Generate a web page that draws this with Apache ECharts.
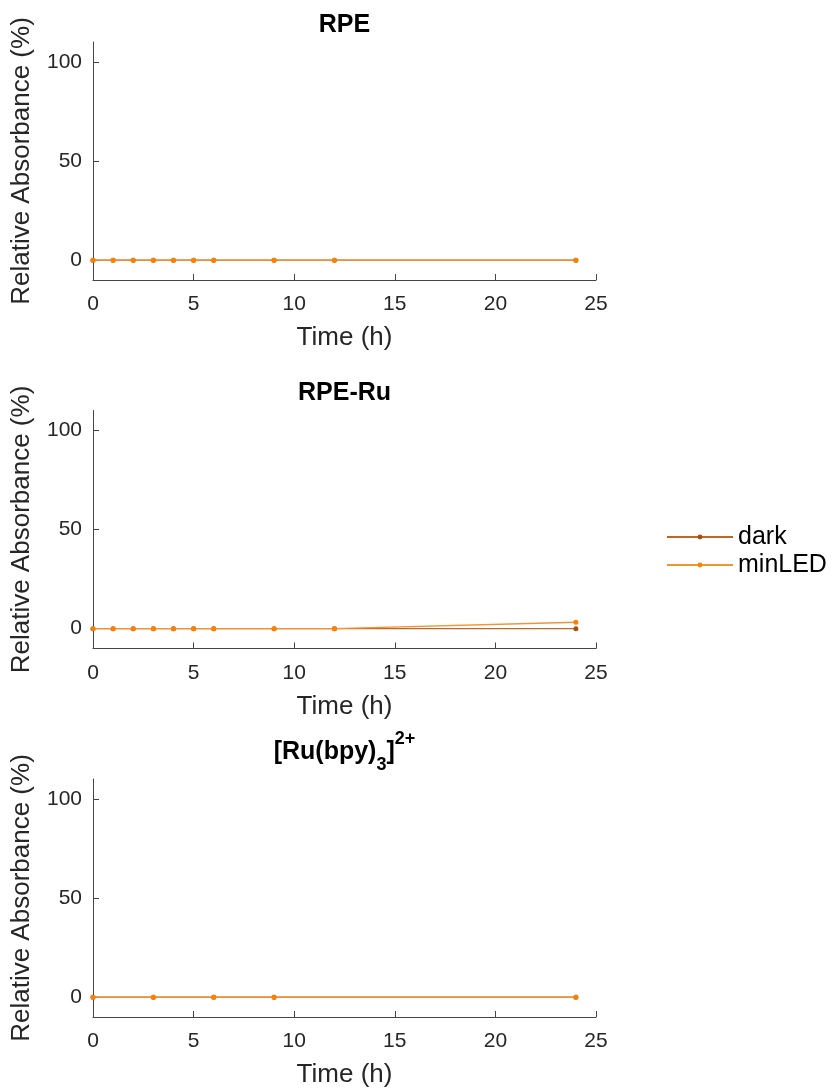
<!DOCTYPE html>
<html>
<head>
<meta charset="utf-8">
<script src="https://cdn.jsdelivr.net/npm/echarts@6/dist/echarts.min.js"></script>
<style>
  html, body { margin: 0; padding: 0; background: #ffffff; }
  #chart { width: 837px; height: 1091px; }
</style>
</head>
<body>
<div id="chart"></div>
<script>
// Panel titles (third one uses rich text for sub/superscript)
const panelTitles = ['RPE', 'RPE-Ru', '{b|[Ru(bpy)}{sub|3}{b|]}{sup|2+}'];
const seriesNames = ['dark', 'minLED'];

// Sampling times (h)
const timesLong = [0, 1, 2, 3, 4, 5, 6, 9, 12, 24];
const timesShort = [0, 3, 6, 9, 24];

// Relative absorbance (%) per panel
const rpeDark = [0, 0, 0, 0, 0, 0, 0, 0, 0, 0];
const rpeMinLED = [0, 0, 0, 0, 0, 0, 0, 0, 0, 0];
const rpeRuDark = [0, 0, 0, 0, 0, 0, 0, 0, 0, 0];
const rpeRuMinLED = [0, 0, 0, 0, 0, 0, 0, 0, 0, 3.2];
const rubpyDark = [0, 0, 0, 0, 0];
const rubpyMinLED = [0, 0, 0, 0, 0];

// Axis ticks
const xTickValues = [0, 5, 10, 15, 20, 25];
const yTickValues = [0, 50, 100];

const panels = [
  { times: timesLong, dark: rpeDark, minLED: rpeMinLED },
  { times: timesLong, dark: rpeRuDark, minLED: rpeRuMinLED },
  { times: timesShort, dark: rubpyDark, minLED: rubpyMinLED }
];

const colors = { dark: '#A4500F', minLED: '#FF8000' };
const lineColors = { dark: '#B86A2E', minLED: '#F7922E' };
const FONT = 'Liberation Sans, Arial, sans-serif';
const AXIS_COLOR = '#454545';
const TEXT_COLOR = '#262626';

const gridLeft = 93, gridWidth = 503, gridHeight = 238;
const gridTops = [42, 410.5, 779];
// vertical centre of each panel title
const titleCenters = [25, 393, 752.5];
const TITLE_LINE = 44;

const grids = [], xAxes = [], yAxes = [], series = [], titles = [];

panels.forEach((p, i) => {
  grids.push({
    left: gridLeft, top: gridTops[i], width: gridWidth, height: gridHeight,
    containLabel: false, outerBoundsMode: 'none'
  });
  xAxes.push({
    gridIndex: i, type: 'value', min: 0, max: 25, interval: 5,
    name: 'Time (h)', nameLocation: 'middle', nameGap: 45,
    nameTextStyle: { fontFamily: FONT, fontSize: 26, color: TEXT_COLOR },
    axisLine: { show: true, onZero: false, lineStyle: { color: AXIS_COLOR, width: 1 } },
    axisTick: { show: true, inside: true, length: 6, customValues: xTickValues, lineStyle: { color: AXIS_COLOR } },
    axisLabel: { fontFamily: FONT, fontSize: 21, color: TEXT_COLOR, margin: 14, customValues: xTickValues },
    splitLine: { show: false }
  });
  yAxes.push({
    gridIndex: i, type: 'value', min: -10, max: 110,
    name: 'Relative Absorbance (%)', nameLocation: 'middle', nameGap: 58,
    nameTextStyle: { fontFamily: FONT, fontSize: 26, color: TEXT_COLOR },
    axisLine: { show: true, lineStyle: { color: AXIS_COLOR, width: 1 } },
    axisTick: { show: true, inside: true, length: 6, customValues: yTickValues, lineStyle: { color: AXIS_COLOR } },
    axisLabel: { fontFamily: FONT, fontSize: 21, color: TEXT_COLOR, margin: 11, customValues: yTickValues },
    splitLine: { show: false }
  });
  seriesNames.forEach((name) => {
    series.push({
      name: name, type: 'line', xAxisIndex: i, yAxisIndex: i,
      data: p.times.map((t, k) => [t, p[name][k]]),
      symbol: 'circle', symbolSize: 5, showSymbol: true,
      itemStyle: { color: colors[name] },
      lineStyle: { color: lineColors[name], width: 1.4 },
      z: name === 'minLED' ? 3 : 2,
      animation: false
    });
  });
  titles.push({
    text: panelTitles[i],
    left: gridLeft + gridWidth / 2, textAlign: 'center',
    top: titleCenters[i] - TITLE_LINE / 2, padding: 0,
    textStyle: {
      fontFamily: FONT, fontSize: 25, fontWeight: 'bold', color: '#000000', lineHeight: TITLE_LINE,
      rich: {
        b: { fontFamily: FONT, fontSize: 25, fontWeight: 'bold', color: '#000000', lineHeight: TITLE_LINE, verticalAlign: 'middle' },
        sub: { fontFamily: FONT, fontSize: 18, fontWeight: 'bold', color: '#000000', lineHeight: 18, verticalAlign: 'bottom' },
        sup: { fontFamily: FONT, fontSize: 18, fontWeight: 'bold', color: '#000000', lineHeight: 18, verticalAlign: 'top' }
      }
    }
  });
});

const chart = echarts.init(document.getElementById('chart'), null, { renderer: 'canvas' });
chart.setOption({
  backgroundColor: '#ffffff',
  animation: false,
  title: titles,
  legend: {
    data: seriesNames,
    orient: 'vertical',
    left: 666, top: 524.5, padding: 0,
    itemWidth: 66, itemHeight: 6, itemGap: 3,
    textStyle: { fontFamily: FONT, fontSize: 25, color: '#000000' }
  },
  grid: grids,
  xAxis: xAxes,
  yAxis: yAxes,
  series: series
});
</script>
</body>
</html>
